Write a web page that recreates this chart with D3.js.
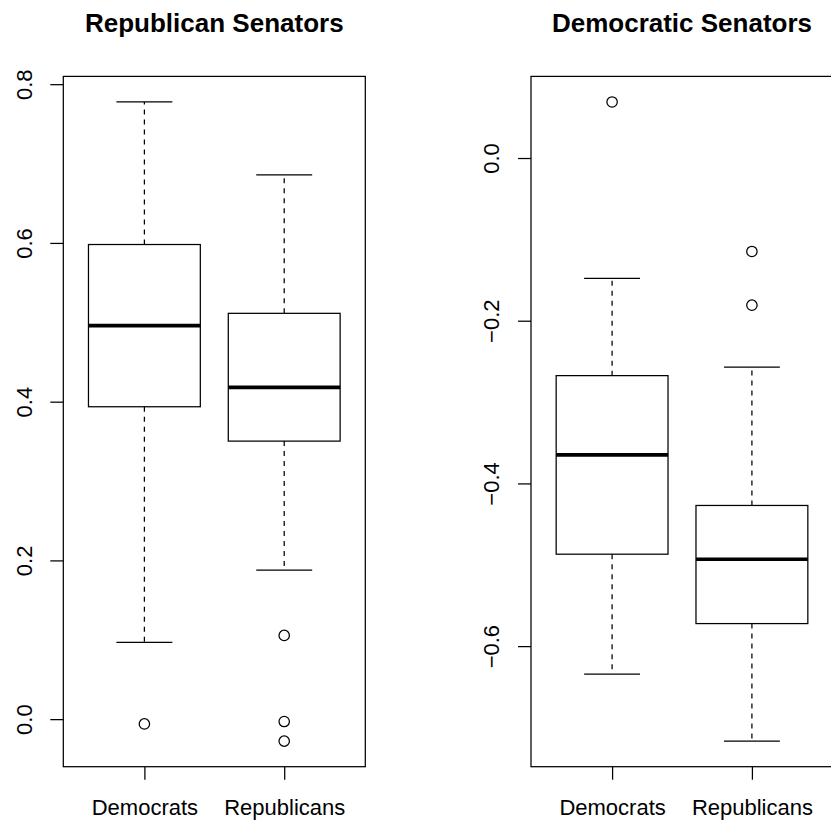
<!DOCTYPE html>
<html>
<head>
<meta charset="utf-8">
<script src="https://cdn.jsdelivr.net/npm/d3@7"></script>
<style>
  html, body { margin: 0; padding: 0; background: #fff; overflow: hidden; }
  svg { display: block; }
  text { font-family: "Liberation Sans", Arial, Helvetica, sans-serif; fill: #000; }
</style>
</head>
<body>
<svg id="chart" width="831" height="825"></svg>
<script>
// Group labels shared by both panels
const groups = ["Democrats", "Republicans"];

// Republican senators: [lower whisker, Q1, median, Q3, upper whisker] per group
const repStats = [
  [0.0966, 0.3936, 0.4957, 0.5980, 0.7776],
  [0.1878, 0.3503, 0.4180, 0.5113, 0.6856]
];
const repOutliers = [
  [-0.006],
  [0.1055, -0.003, -0.0277]
];
const repTicks = [0.0, 0.2, 0.4, 0.6, 0.8];

// Democratic senators
const demStats = [
  [-0.6343, -0.4870, -0.3648, -0.2675, -0.1481],
  [-0.7168, -0.5723, -0.4932, -0.4271, -0.2569]
];
const demOutliers = [
  [0.0689],
  [-0.1149, -0.1809]
];
const demTicks = [0.0, -0.2, -0.4, -0.6];

const svg = d3.select("#chart");

const plotTop = 76.4, plotBottom = 766.7, plotWidth = 302;
const tickLen = 13;
const lw = 1.25;

function panel(left, title, stats, outliers, ticks) {
  const g = svg.append("g").attr("transform", `translate(${left},0)`);

  // R-style 4% expansion of data range
  const all = stats.flat().concat(outliers.flat());
  const lo = d3.min(all), hi = d3.max(all), pad = (hi - lo) * 0.04;
  const y = d3.scaleLinear().domain([lo - pad, hi + pad]).range([plotBottom, plotTop]);
  const xPad = (groups.length) * 0.04;
  const x = d3.scaleLinear()
    .domain([0.5 - xPad, groups.length + 0.5 + xPad])
    .range([0, plotWidth]);
  const boxW = (x(1) - x(0)) * 0.8;
  const capW = boxW * 0.5;

  const fmt = v => (v < 0 ? "\u2212" : "") + Math.abs(v).toFixed(1);

  // y axis with rotated labels
  const yAxis = g.append("g")
    .call(d3.axisLeft(y).tickValues(ticks).tickSize(tickLen).tickSizeOuter(0).tickFormat(fmt));
  yAxis.select(".domain").remove();
  yAxis.selectAll(".tick line").attr("stroke", "#000").attr("stroke-width", lw);
  yAxis.selectAll(".tick text")
    .attr("x", null).attr("dy", null)
    .attr("transform", "translate(-31.6,0) rotate(-90)")
    .attr("text-anchor", "middle")
    .style("font-size", "22px");

  // x axis
  const xAxis = g.append("g").attr("transform", `translate(0,${plotBottom})`)
    .call(d3.axisBottom(x).tickValues(groups.map((d, i) => i + 1))
      .tickSize(tickLen).tickSizeOuter(0).tickFormat((d, i) => groups[i]));
  xAxis.select(".domain").remove();
  xAxis.selectAll(".tick line").attr("stroke", "#000").attr("stroke-width", lw);
  xAxis.selectAll(".tick text")
    .attr("y", 48).attr("dy", null)
    .style("font-size", "22px");

  // boxes
  const box = g.selectAll("g.box").data(stats).join("g").attr("class", "box")
    .attr("transform", (d, i) => `translate(${x(i + 1)},0)`);

  // whiskers (dashed)
  box.append("line")
    .attr("x1", 0).attr("x2", 0)
    .attr("y1", d => y(d[3])).attr("y2", d => y(d[4]))
    .attr("stroke", "#000").attr("stroke-width", lw).attr("stroke-dasharray", "5,5");
  box.append("line")
    .attr("x1", 0).attr("x2", 0)
    .attr("y1", d => y(d[1])).attr("y2", d => y(d[0]))
    .attr("stroke", "#000").attr("stroke-width", lw).attr("stroke-dasharray", "5,5");

  // staples
  box.selectAll("line.cap").data(d => [d[0], d[4]]).join("line").attr("class", "cap")
    .attr("x1", -capW / 2).attr("x2", capW / 2)
    .attr("y1", v => y(v)).attr("y2", v => y(v))
    .attr("stroke", "#000").attr("stroke-width", lw);

  // box body
  box.append("rect")
    .attr("x", -boxW / 2).attr("width", boxW)
    .attr("y", d => y(d[3])).attr("height", d => y(d[1]) - y(d[3]))
    .attr("fill", "none").attr("stroke", "#000").attr("stroke-width", lw);

  // median
  box.append("line")
    .attr("x1", -boxW / 2).attr("x2", boxW / 2)
    .attr("y1", d => y(d[2])).attr("y2", d => y(d[2]))
    .attr("stroke", "#000").attr("stroke-width", 3.7);

  // outliers
  box.each(function (d, i) {
    d3.select(this).selectAll("circle").data(outliers[i]).join("circle")
      .attr("cx", 0).attr("cy", v => y(v)).attr("r", 5.2)
      .attr("fill", "none").attr("stroke", "#000").attr("stroke-width", lw);
  });

  // plot frame
  g.append("rect")
    .attr("x", 0).attr("y", plotTop)
    .attr("width", plotWidth).attr("height", plotBottom - plotTop)
    .attr("fill", "none").attr("stroke", "#000").attr("stroke-width", lw);

  // title
  g.append("text")
    .attr("x", plotWidth / 2).attr("y", 32)
    .attr("text-anchor", "middle")
    .style("font-size", "26px").style("font-weight", "bold")
    .text(title);
}

panel(63.3, "Republican Senators", repStats, repOutliers, repTicks);
panel(531, "Democratic Senators", demStats, demOutliers, demTicks);
</script>
</body>
</html>
